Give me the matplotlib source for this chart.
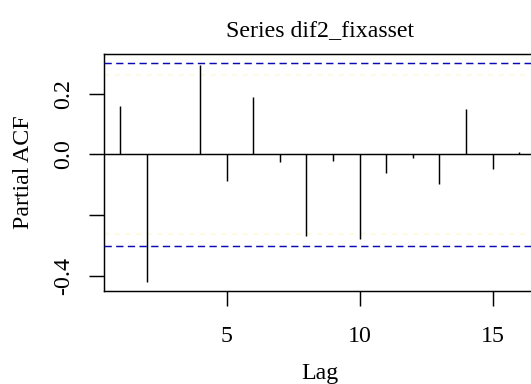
import matplotlib
matplotlib.use("Agg")
import matplotlib.pyplot as plt
import numpy as np

# Partial autocorrelations of the twice-differenced fixed-asset series
lags = [1, 2, 3, 4, 5, 6, 7, 8, 9, 10, 11, 12, 13, 14, 15, 16]
pacf_vals = [0.159, -0.422, 0.003, 0.297, -0.087, 0.190, -0.026, -0.269,
             -0.023, -0.279, -0.062, -0.012, -0.098, 0.150, -0.047, 0.008]
conf_limit = 0.302
inner_limit = 0.264

x_ticks = [5, 10, 15]
y_ticks = [-0.4, -0.2, 0.0, 0.2]
y_tick_labels = ["-0.4", "", "0.0", "0.2"]

plt.rcParams["font.family"] = ["Liberation Serif", "DejaVu Serif"]
FS = 17.2

fig = plt.figure(figsize=(5.31, 3.84), dpi=100)
ax = fig.add_axes([0.196, 0.2422, 0.812, 0.6164])

for s in (1, -1):
    ax.axhline(s * inner_limit, color="#fdfbe4", lw=1.6, ls=(0, (2.2, 2.6)), zorder=1)
ax.vlines(lags, 0, pacf_vals, color="black", lw=1.05, zorder=2)
ax.axhline(0, color="black", lw=1.05, zorder=2)
for s in (1, -1):
    ax.axhline(s * conf_limit, color="#0a0ab4", lw=1.05, ls=(0, (5.0, 3.0)), zorder=3)

lo = min(min(pacf_vals), -conf_limit)
hi = max(max(pacf_vals), conf_limit)
pad_y = 0.04 * (hi - lo)
ax.set_ylim(lo - pad_y, hi + pad_y)
pad_x = 0.04 * (max(lags) - min(lags))
ax.set_xlim(min(lags) - pad_x, max(lags) + pad_x)

ax.set_xticks(x_ticks)
ax.set_xticklabels([str(t) for t in x_ticks], fontsize=FS)
ax.set_yticks(y_ticks)
ax.set_yticklabels(y_tick_labels, fontsize=FS, rotation=90, va="center")
ax.tick_params(axis="both", direction="out", length=10.5, width=1.05, color="black")
ax.tick_params(axis="x", pad=14.5)
ax.tick_params(axis="y", pad=11)

for sp in ax.spines.values():
    sp.set_linewidth(1.05)

ax.set_xlabel("Lag", fontsize=FS, labelpad=12)
ax.set_ylabel("Partial ACF", fontsize=FS, labelpad=14)
ax.set_title("Series dif2_fixasset", fontsize=FS, pad=13)

fig.savefig("out.png", dpi=100)
